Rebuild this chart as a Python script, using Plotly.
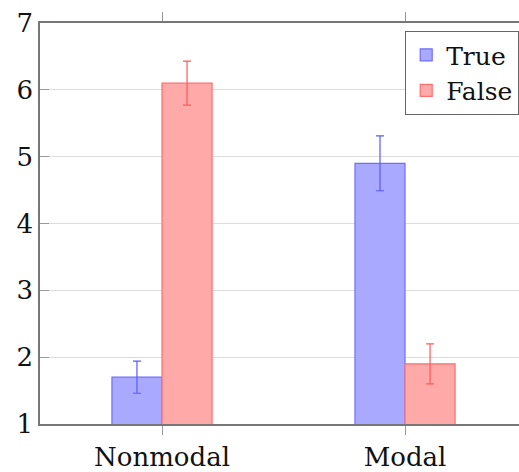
import plotly.graph_objects as go

categories = ["Nonmodal", "Modal"]
true_vals = [1.7, 4.9]
true_err = [0.24, 0.41]
false_vals = [6.1, 1.9]
false_err = [0.33, 0.30]
y_ticks = [1, 2, 3, 4, 5, 6, 7]

FONT = "DejaVu Serif"

fig = go.Figure()
fig.add_trace(go.Bar(
    name="True", x=categories, y=true_vals,
    marker=dict(color="#a9a9ff", line=dict(color="#6f6fff", width=1.2)),
    error_y=dict(type="data", array=true_err, color="#5a5aff", thickness=1.2, width=4),
))
fig.add_trace(go.Bar(
    name="False", x=categories, y=false_vals,
    marker=dict(color="#ffa9a9", line=dict(color="#ff6f6f", width=1.2)),
    error_y=dict(type="data", array=false_err, color="#ff5a5a", thickness=1.2, width=4),
))

fig.update_layout(
    width=519, height=472,
    margin=dict(l=40, r=0, t=23, b=42),
    barmode="group", bargap=0.588, bargroupgap=0,
    plot_bgcolor="white", paper_bgcolor="white",
    font=dict(family=FONT, size=26, color="#111111"),
    legend=dict(
        x=1, xanchor="right", y=0.98, yanchor="top",
        bordercolor="#666666", borderwidth=1.2, bgcolor="white",
        font=dict(family=FONT, size=25),
        tracegroupgap=0, itemwidth=30,
    ),
    showlegend=True,
)
fig.update_xaxes(
    range=[-0.502, 1.469],
    showline=True, linecolor="#777777", linewidth=1.5, mirror="ticks",
    ticks="outside", ticklen=9, tickcolor="#999999", tickwidth=1,
    showgrid=False, zeroline=False,
    tickfont=dict(family=FONT, size=26),
)
fig.update_yaxes(
    range=[1, 7], tickvals=y_ticks,
    showline=True, linecolor="#777777", linewidth=1.5,
    ticks="inside", ticklen=9, tickcolor="#999999", tickwidth=1,
    showgrid=True, gridcolor="#dcdcdc", gridwidth=1.2,
    zeroline=False,
    tickfont=dict(family=FONT, size=26),
)

fig.write_html(
    "out.html",
    config={"displayModeBar": False},
    post_script="document.body.style.margin='0';document.body.style.overflow='hidden';",
)
